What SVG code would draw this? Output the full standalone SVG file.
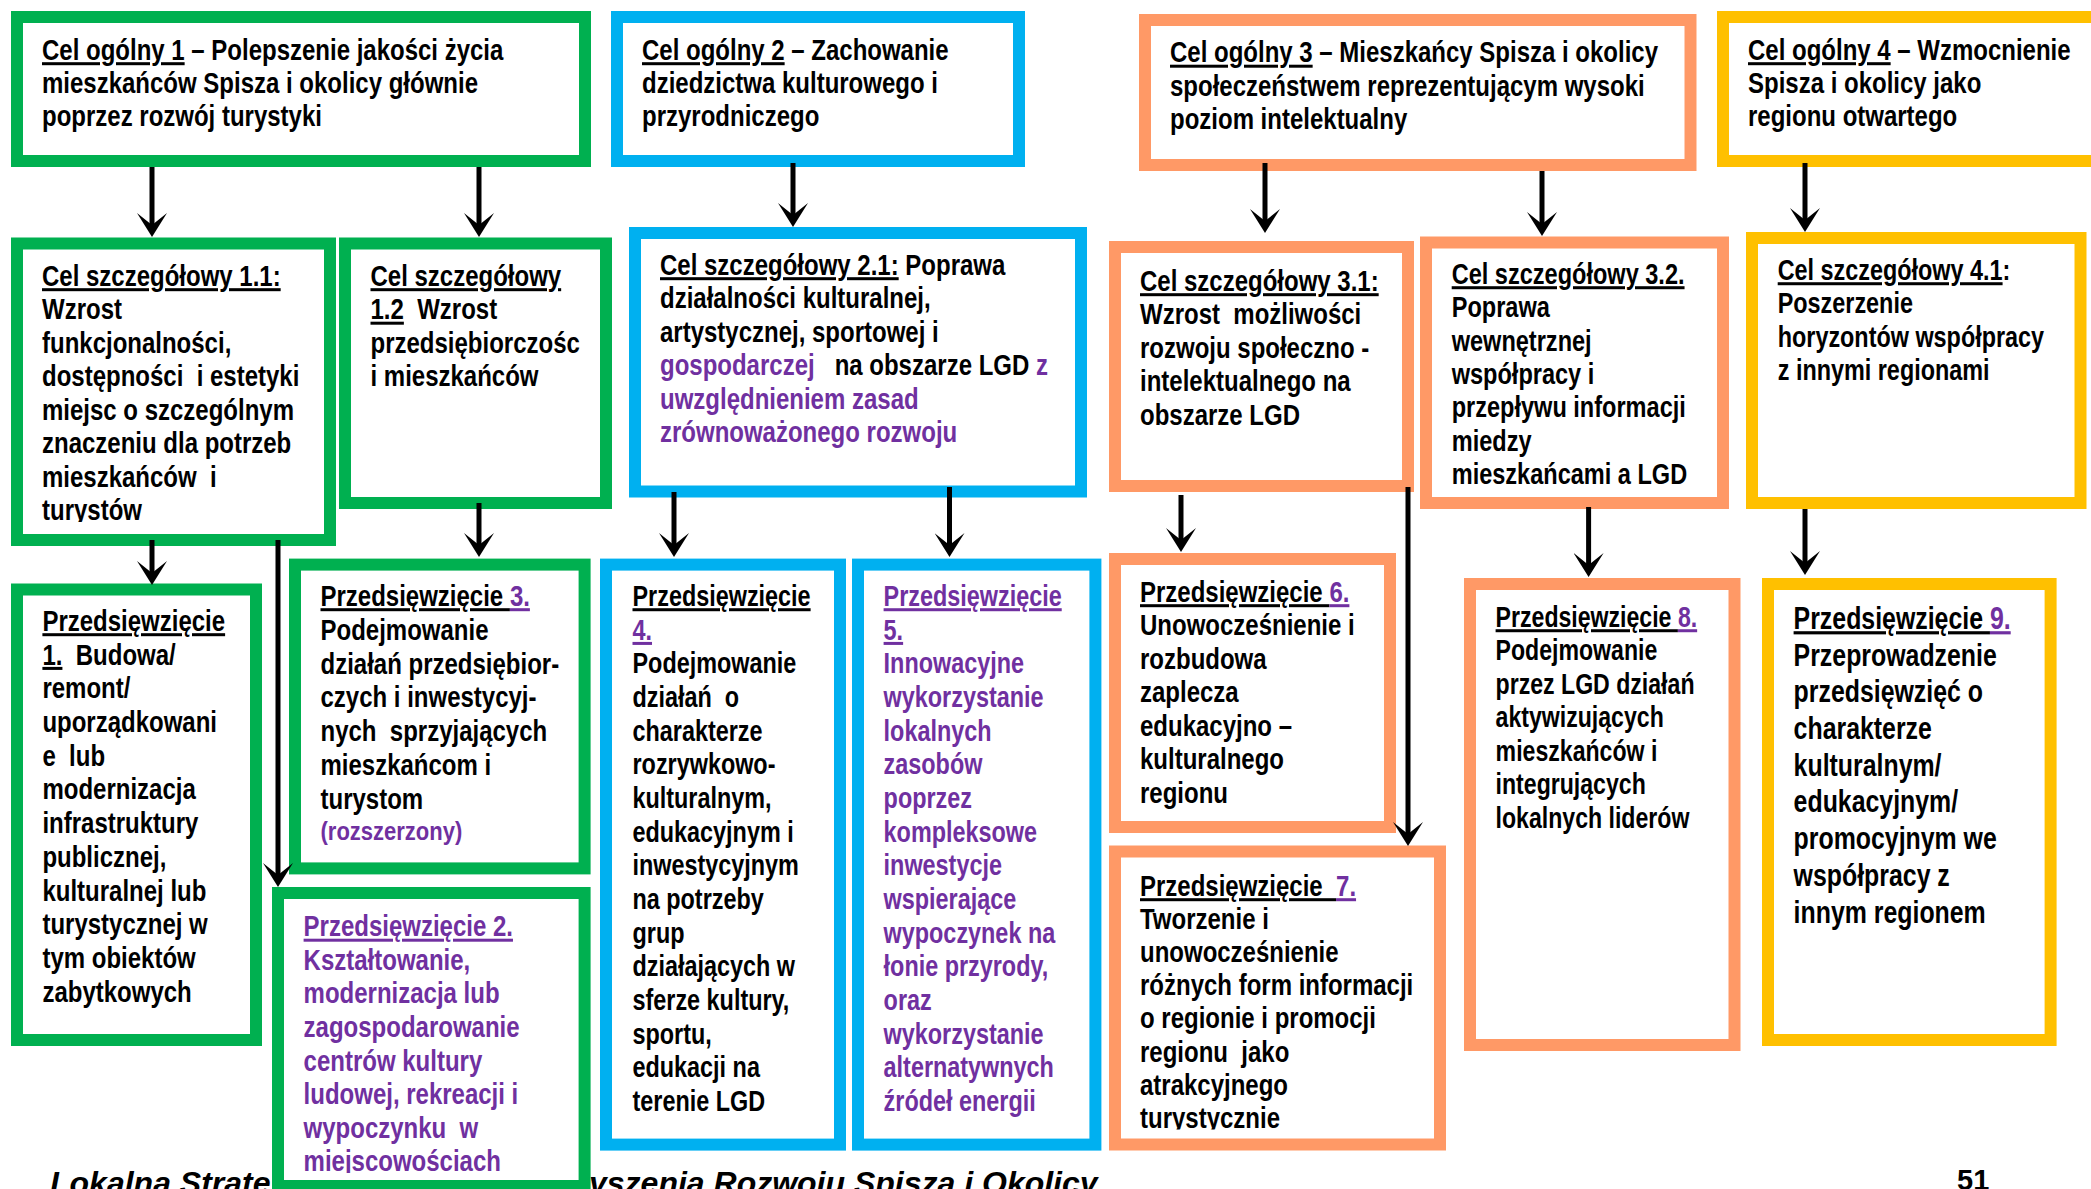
<svg xmlns="http://www.w3.org/2000/svg" width="2091" height="1189" viewBox="0 0 2091 1189">
<style>
.b{fill:#fff;stroke-width:12}
.g{stroke:#00B050}.bl{stroke:#00B0F0}.o{stroke:#FF9966}.y{stroke:#FFC000}
.t{font-family:"Liberation Sans",Arial,sans-serif;font-weight:bold;font-size:30px;fill:#000;white-space:pre}
.p{fill:#7030A0}
.u{text-decoration:underline}
.f{font-family:"Liberation Sans",Arial,sans-serif;font-weight:bold;font-style:italic;font-size:32px;fill:#000}
.n{font-family:"Liberation Sans",Arial,sans-serif;font-weight:bold;font-size:29px;fill:#000}
#connectors line{stroke:#000;stroke-width:5;marker-end:url(#ah)}
</style>
<defs>
<marker id="ah" viewBox="-24 -15 24 30" refX="-12" refY="0" markerWidth="24" markerHeight="30" markerUnits="userSpaceOnUse" orient="auto"><path d="M0,0 L-24,-15 L-12,0 L-24,15 Z" fill="#000"/></marker>
<clipPath id="c11" clipPathUnits="userSpaceOnUse"><rect x="-100" y="0" width="1000" height="522"/></clipPath>
<clipPath id="c7" clipPathUnits="userSpaceOnUse"><rect x="-100" y="0" width="1000" height="1129.5"/></clipPath>
<clipPath id="c2" clipPathUnits="userSpaceOnUse"><rect x="-100" y="0" width="1000" height="1173"/></clipPath>
</defs>
<rect width="2091" height="1189" fill="#fff"/>
<g id="footer">
<text class="f" x="50" y="1194">Lokalna Strate</text>
<text class="f" x="589" y="1194">yszenia Rozwoju Spisza i Okolicy</text>
<text class="n" x="1957" y="1190">51</text>
</g>
<g id="cel-ogolny-1">
<rect class="b g" x="17" y="17" width="568" height="144"/>
<text class="t" transform="translate(42,0) scale(0.8,1)"><tspan x="0" y="60" class="u">Cel ogólny 1</tspan><tspan> – Polepszenie jakości życia</tspan><tspan x="0" y="93">mieszkańców Spisza i okolicy głównie</tspan><tspan x="0" y="126">poprzez rozwój turystyki</tspan></text>
</g>
<g id="cel-ogolny-2">
<rect class="b bl" x="617" y="17" width="402" height="144"/>
<text class="t" transform="translate(642,0) scale(0.8,1)"><tspan x="0" y="60" class="u">Cel ogólny 2</tspan><tspan> – Zachowanie</tspan><tspan x="0" y="93">dziedzictwa kulturowego i</tspan><tspan x="0" y="126">przyrodniczego</tspan></text>
</g>
<g id="cel-ogolny-3">
<rect class="b o" x="1145" y="20" width="545.5" height="145"/>
<text class="t" transform="translate(1170,0) scale(0.8,1)"><tspan x="0" y="62.5" class="u">Cel ogólny 3</tspan><tspan> – Mieszkańcy Spisza i okolicy</tspan><tspan x="0" y="96">społeczeństwem reprezentującym wysoki</tspan><tspan x="0" y="129">poziom intelektualny</tspan></text>
</g>
<g id="cel-ogolny-4">
<rect class="b y" x="1723" y="17" width="400" height="144"/>
<text class="t" transform="translate(1748,0) scale(0.8,1)"><tspan x="0" y="60" class="u">Cel ogólny 4</tspan><tspan> – Wzmocnienie</tspan><tspan x="0" y="93">Spisza i okolicy jako</tspan><tspan x="0" y="126">regionu otwartego</tspan></text>
</g>
<g id="cel-szczegolowy-1-1">
<rect class="b g" x="17" y="243.5" width="313" height="296.5"/>
<text class="t" clip-path="url(#c11)" transform="translate(42,0) scale(0.8,1)"><tspan x="0" y="286" class="u">Cel szczegółowy 1.1:</tspan><tspan x="0" y="319.5">Wzrost</tspan><tspan x="0" y="353">funkcjonalności,</tspan><tspan x="0" y="386.5">dostępności  i estetyki</tspan><tspan x="0" y="420">miejsc o szczególnym</tspan><tspan x="0" y="453.5">znaczeniu dla potrzeb</tspan><tspan x="0" y="487">mieszkańców  i</tspan><tspan x="0" y="520.5">turystów</tspan></text>
</g>
<g id="cel-szczegolowy-1-2">
<rect class="b g" x="345" y="243.5" width="261" height="259.5"/>
<text class="t" transform="translate(370.5,0) scale(0.8,1)"><tspan x="0" y="286" class="u">Cel szczegółowy</tspan><tspan x="0" y="319.5" class="u">1.2</tspan><tspan>  Wzrost</tspan><tspan x="0" y="353">przedsiębiorczośc</tspan><tspan x="0" y="386.5">i mieszkańców</tspan></text>
</g>
<g id="cel-szczegolowy-2-1">
<rect class="b bl" x="635" y="233" width="446" height="258.5"/>
<text class="t" transform="translate(660,0) scale(0.8,1)"><tspan x="0" y="275" class="u">Cel szczegółowy 2.1:</tspan><tspan> Poprawa</tspan><tspan x="0" y="308.5">działalności kulturalnej,</tspan><tspan x="0" y="342">artystycznej, sportowej i</tspan><tspan x="0" y="375.5" class="p">gospodarczej</tspan><tspan>   na obszarze LGD </tspan><tspan class="p">z</tspan><tspan x="0" y="409" class="p">uwzględnieniem zasad</tspan><tspan x="0" y="442.5" class="p">zrównoważonego rozwoju</tspan></text>
</g>
<g id="cel-szczegolowy-3-1">
<rect class="b o" x="1115" y="247" width="293" height="239"/>
<text class="t" transform="translate(1140,0) scale(0.8,1)"><tspan x="0" y="291" class="u">Cel szczegółowy 3.1:</tspan><tspan x="0" y="324.5">Wzrost  możliwości</tspan><tspan x="0" y="358">rozwoju społeczno -</tspan><tspan x="0" y="391.5">intelektualnego na</tspan><tspan x="0" y="425">obszarze LGD</tspan></text>
</g>
<g id="cel-szczegolowy-3-2">
<rect class="b o" x="1426" y="242.5" width="297" height="260.5"/>
<text class="t" transform="translate(1451.7,0) scale(0.785,1)"><tspan x="0" y="284" class="u">Cel szczegółowy 3.2.</tspan><tspan x="0" y="317.3">Poprawa</tspan><tspan x="0" y="350.6">wewnętrznej</tspan><tspan x="0" y="384">współpracy i</tspan><tspan x="0" y="417.3">przepływu informacji</tspan><tspan x="0" y="450.6">miedzy</tspan><tspan x="0" y="484">mieszkańcami a LGD</tspan></text>
</g>
<g id="cel-szczegolowy-4-1">
<rect class="b y" x="1752" y="238" width="328.5" height="265"/>
<text class="t" transform="translate(1777.7,0) scale(0.78,1)"><tspan x="0" y="280" class="u">Cel szczegółowy 4.1</tspan><tspan>:</tspan><tspan x="0" y="313.5">Poszerzenie</tspan><tspan x="0" y="347">horyzontów współpracy</tspan><tspan x="0" y="380.5">z innymi regionami</tspan></text>
</g>
<g id="przedsiewziecie-1">
<rect class="b g" x="17" y="589.5" width="239" height="450.5"/>
<text class="t" transform="translate(42.4,0) scale(0.8,1)"><tspan x="0" y="631" class="u">Przedsięwzięcie</tspan><tspan x="0" y="664.7" class="u">1.</tspan><tspan>  Budowa/</tspan><tspan x="0" y="698.4">remont/</tspan><tspan x="0" y="732.1">uporządkowani</tspan><tspan x="0" y="765.8">e  lub</tspan><tspan x="0" y="799.5">modernizacja</tspan><tspan x="0" y="833.2">infrastruktury</tspan><tspan x="0" y="866.9">publicznej,</tspan><tspan x="0" y="900.6">kulturalnej lub</tspan><tspan x="0" y="934.3">turystycznej w</tspan><tspan x="0" y="968">tym obiektów</tspan><tspan x="0" y="1001.7">zabytkowych</tspan></text>
</g>
<g id="przedsiewziecie-3">
<rect class="b g" x="295" y="564.6" width="289.6" height="303.8"/>
<text class="t" transform="translate(320.5,0) scale(0.8,1)"><tspan x="0" y="606" class="u">Przedsięwzięcie </tspan><tspan class="p u">3.</tspan><tspan x="0" y="640">Podejmowanie</tspan><tspan x="0" y="674">działań przedsiębior-</tspan><tspan x="0" y="707.5">czych i inwestycyj-</tspan><tspan x="0" y="741.5">nych  sprzyjających</tspan><tspan x="0" y="775">mieszkańcom i</tspan><tspan x="0" y="809">turystom</tspan></text>
<text class="t p" style="font-size:25px" transform="translate(320.5,0) scale(0.88,1)" x="0" y="840">(rozszerzony)</text>
</g>
<g id="przedsiewziecie-2">
<rect class="b g" x="278" y="893" width="306.6" height="293"/>
<text class="t p" clip-path="url(#c2)" transform="translate(303.6,0) scale(0.8,1)"><tspan x="0" y="936.5" class="u">Przedsięwzięcie 2.</tspan><tspan x="0" y="970">Kształtowanie,</tspan><tspan x="0" y="1003.5">modernizacja lub</tspan><tspan x="0" y="1037">zagospodarowanie</tspan><tspan x="0" y="1071">centrów kultury</tspan><tspan x="0" y="1104.5">ludowej, rekreacji i</tspan><tspan x="0" y="1138">wypoczynku  w</tspan><tspan x="0" y="1171.5">miejscowościach</tspan></text>
</g>
<g id="przedsiewziecie-4">
<rect class="b bl" x="606" y="564.6" width="234" height="580"/>
<text class="t" transform="translate(632.5,0) scale(0.78,1)"><tspan x="0" y="606" class="u">Przedsięwzięcie</tspan><tspan x="0" y="639.7" class="p u">4.</tspan><tspan x="0" y="673.3">Podejmowanie</tspan><tspan x="0" y="707">działań  o</tspan><tspan x="0" y="740.7">charakterze</tspan><tspan x="0" y="774.3">rozrywkowo-</tspan><tspan x="0" y="808">kulturalnym,</tspan><tspan x="0" y="841.7">edukacyjnym i</tspan><tspan x="0" y="875.4">inwestycyjnym</tspan><tspan x="0" y="909">na potrzeby</tspan><tspan x="0" y="942.7">grup</tspan><tspan x="0" y="976.4">działających w</tspan><tspan x="0" y="1010">sferze kultury,</tspan><tspan x="0" y="1043.7">sportu,</tspan><tspan x="0" y="1077.4">edukacji na</tspan><tspan x="0" y="1111">terenie LGD</tspan></text>
</g>
<g id="przedsiewziecie-5">
<rect class="b bl" x="858" y="564.6" width="237.4" height="580"/>
<text class="t p" transform="translate(883.6,0) scale(0.78,1)"><tspan x="0" y="606" class="u">Przedsięwzięcie</tspan><tspan x="0" y="639.7" class="u">5.</tspan><tspan x="0" y="673.3">Innowacyjne</tspan><tspan x="0" y="707">wykorzystanie</tspan><tspan x="0" y="740.7">lokalnych</tspan><tspan x="0" y="774.3">zasobów</tspan><tspan x="0" y="808">poprzez</tspan><tspan x="0" y="841.7">kompleksowe</tspan><tspan x="0" y="875.4">inwestycje</tspan><tspan x="0" y="909">wspierające</tspan><tspan x="0" y="942.7">wypoczynek na</tspan><tspan x="0" y="976.4">łonie przyrody,</tspan><tspan x="0" y="1010">oraz</tspan><tspan x="0" y="1043.7">wykorzystanie</tspan><tspan x="0" y="1077.4">alternatywnych</tspan><tspan x="0" y="1111">źródeł energii</tspan></text>
</g>
<g id="przedsiewziecie-6">
<rect class="b o" x="1115" y="559" width="275" height="268"/>
<text class="t" transform="translate(1140,0) scale(0.8,1)"><tspan x="0" y="602" class="u">Przedsięwzięcie </tspan><tspan class="p u">6.</tspan><tspan x="0" y="635.5">Unowocześnienie i</tspan><tspan x="0" y="669">rozbudowa</tspan><tspan x="0" y="702.5">zaplecza</tspan><tspan x="0" y="736">edukacyjno –</tspan><tspan x="0" y="769.5">kulturalnego</tspan><tspan x="0" y="803">regionu</tspan></text>
</g>
<g id="przedsiewziecie-7">
<rect class="b o" x="1115" y="851.5" width="325" height="293"/>
<text class="t" clip-path="url(#c7)" transform="translate(1140,0) scale(0.8,1)"><tspan x="0" y="896" class="u">Przedsięwzięcie  </tspan><tspan class="p u">7.</tspan><tspan x="0" y="929">Tworzenie i</tspan><tspan x="0" y="962">unowocześnienie</tspan><tspan x="0" y="995">różnych form informacji</tspan><tspan x="0" y="1028.5">o regionie i promocji</tspan><tspan x="0" y="1062">regionu  jako</tspan><tspan x="0" y="1095">atrakcyjnego</tspan><tspan x="0" y="1128">turystycznie</tspan></text>
</g>
<g id="przedsiewziecie-8">
<rect class="b o" x="1470" y="584" width="264.5" height="461"/>
<text class="t" transform="translate(1495.6,0) scale(0.77,1)"><tspan x="0" y="627" class="u">Przedsięwzięcie </tspan><tspan class="p u">8.</tspan><tspan x="0" y="660.5">Podejmowanie</tspan><tspan x="0" y="694">przez LGD działań</tspan><tspan x="0" y="727.5">aktywizujących</tspan><tspan x="0" y="761">mieszkańców i</tspan><tspan x="0" y="794.5">integrujących</tspan><tspan x="0" y="828">lokalnych liderów</tspan></text>
</g>
<g id="przedsiewziecie-9">
<rect class="b y" x="1768" y="584" width="282.6" height="456"/>
<text class="t" style="font-size:31.5px" transform="translate(1793.6,0) scale(0.79,1)"><tspan x="0" y="629" class="u">Przedsięwzięcie </tspan><tspan class="p u">9.</tspan><tspan x="0" y="665.7">Przeprowadzenie</tspan><tspan x="0" y="702.4">przedsięwzięć o</tspan><tspan x="0" y="739">charakterze</tspan><tspan x="0" y="775.8">kulturalnym/</tspan><tspan x="0" y="812.5">edukacyjnym/</tspan><tspan x="0" y="849">promocyjnym we</tspan><tspan x="0" y="886">współpracy z</tspan><tspan x="0" y="923">innym regionem</tspan></text>
</g>
<g id="connectors">
<line x1="152" y1="167" x2="152" y2="225"/>
<line x1="479" y1="167" x2="479" y2="225"/>
<line x1="793" y1="163" x2="793" y2="215"/>
<line x1="1265" y1="163" x2="1265" y2="221"/>
<line x1="1542" y1="171" x2="1542" y2="224"/>
<line x1="1805" y1="163" x2="1805" y2="220"/>
<line x1="152" y1="540" x2="152" y2="573"/>
<line x1="278" y1="540" x2="278" y2="875"/>
<line x1="479" y1="503" x2="479" y2="545"/>
<line x1="674" y1="492" x2="674" y2="545"/>
<line x1="949.5" y1="487" x2="949.5" y2="545"/>
<line x1="1181" y1="495" x2="1181" y2="540"/>
<line x1="1408" y1="487" x2="1408" y2="834"/>
<line x1="1588.6" y1="507" x2="1588.6" y2="565"/>
<line x1="1805" y1="509" x2="1805" y2="563"/>
</g>
</svg>
